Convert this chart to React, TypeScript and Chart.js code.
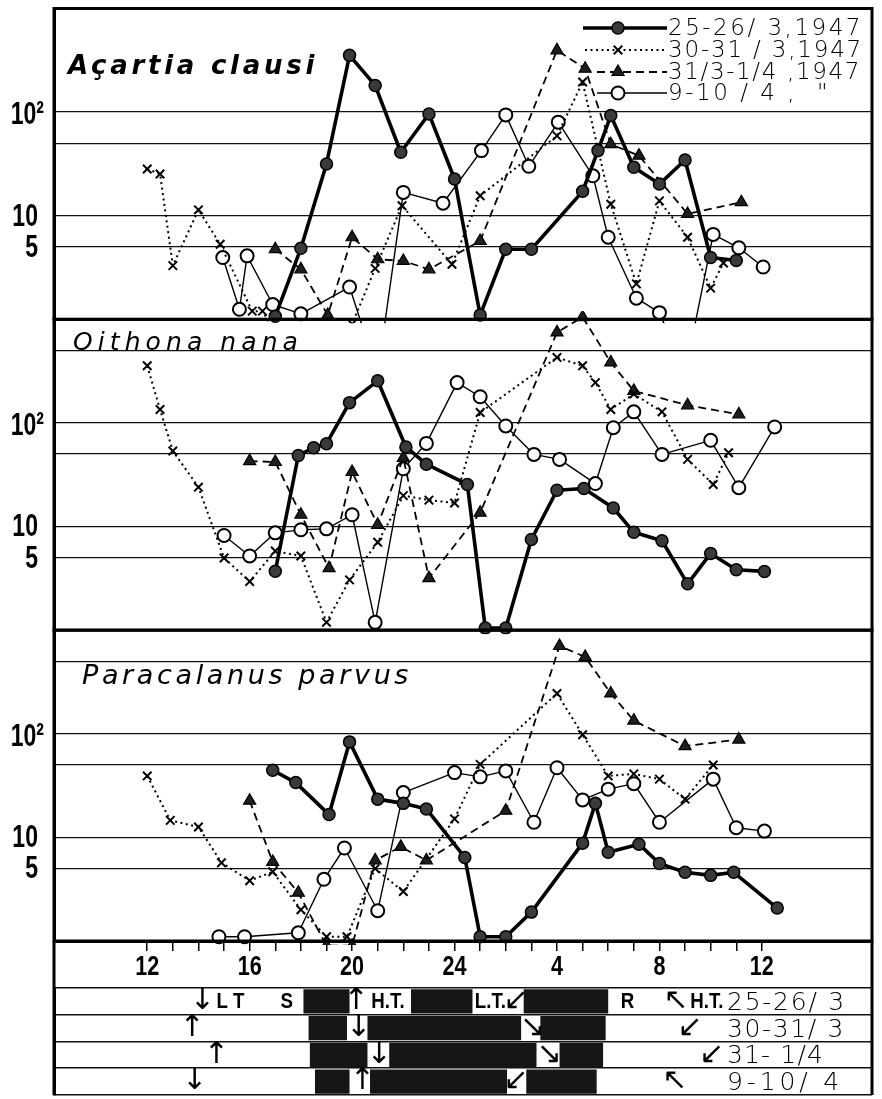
import React, { useEffect, useRef } from 'react';
import { Chart, registerables } from 'chart.js';
import { drawPoint } from 'chart.js/helpers';

Chart.register(...registerables);

// ---------- axis ----------
const X_MIN = 8.36;
const X_MAX = 40.3;
const hourTicks = [12, 13, 14, 15, 16, 17, 18, 19, 20, 21, 22, 23, 24, 25, 26, 27, 28, 29, 30, 31, 32, 33, 34, 35, 36];
const hourTickText: Record<number, string> = { 12: '12', 16: '16', 20: '20', 24: '24', 28: '4', 32: '8', 36: '12' };
const yLabelValues = [5, 10, 100];
const yTickText: Record<number, string> = { 5: '5', 10: '10', 100: '10²' };
const panelGridTop = [5, 10, 50, 100];
const panelGrid = [5, 10, 50, 100, 500];

const seriesNames = ['25-26/ 3,1947', '30-31 / 3,1947', '31/3-1/4 ,1947', '9-10 / 4 ,  "'];
const panelTitles = ['Açartia clausi', 'Oithona nana', 'Paracalanus parvus'];

// ---------- Açartia clausi ----------
const acHours25 = [17, 18, 19, 19.9, 20.9, 21.9, 23, 24, 25, 26, 27, 29, 29.6, 30.1, 31, 32, 33, 34, 35];
const acCount25 = [1.07, 4.85, 31.6, 353, 181, 41, 96, 22.6, 1.1, 4.75, 4.75, 17.2, 42.5, 92.6, 29.4, 20.2, 34.5, 3.95, 3.7];
const acHours30 = [12, 12.5, 13, 14, 14.85, 16.1, 16.5, 18, 19, 20, 20.9, 21.95, 23.9, 25, 28, 29, 30.1, 31.1, 32, 33.1, 34, 34.5];
const acCount30 = [28.2, 25.3, 3.3, 11.4, 5.3, 1.2, 1.2, 0.3, 0.3, 0.9, 3.1, 12.5, 3.4, 15.6, 59, 195, 12.9, 2.2, 13.9, 6.2, 2.0, 3.5];
const acHours31 = [17, 18, 19.05, 20, 21, 22, 23, 25, 28, 29.1, 30.1, 31.2, 33.1, 35.2];
const acCount31 = [4.75, 3.04, 1.1, 6.2, 3.8, 3.66, 3.04, 5.7, 395, 262, 49, 38, 10.4, 13.5];
const acHours9 = [14.95, 15.6, 15.9, 16.9, 18, 19.9, 21, 22, 23.55, 25.05, 26, 26.9, 28.05, 29.4, 30, 31.1, 32, 33, 34.1, 35.1, 36.05];
const acCount9 = [3.95, 1.25, 4.1, 1.39, 1.13, 2.05, 0.3, 16.8, 13.2, 42.5, 94, 30, 80, 24.3, 6.2, 1.6, 1.16, 0.3, 6.6, 4.9, 3.2];

// ---------- Oithona nana ----------
const onHours25 = [17, 17.9, 18.5, 19, 19.9, 21, 22.1, 22.9, 24.5, 25.2, 26, 27, 28, 29.05, 30.2, 31, 32.1, 33.1, 34, 35, 36.1];
const onCount25 = [3.7, 48.5, 57.7, 63, 157, 255, 58.6, 40, 25.5, 1.05, 1.05, 7.5, 22.4, 23.3, 15.1, 8.8, 7.3, 2.8, 5.5, 3.83, 3.69];
const onHours30 = [12, 12.5, 13, 14, 15, 16, 17, 18, 19, 19.9, 21, 22, 23, 24, 25, 28, 29, 29.5, 30.1, 31, 32.1, 33.1, 34.1, 34.7];
const onCount30 = [356, 135, 53.6, 24, 4.97, 2.95, 5.8, 5.2, 1.19, 3.06, 7.05, 19.9, 18, 16.9, 126, 429, 356, 245, 135, 190, 128, 44.5, 25.5, 51.5];
const onHours31 = [16, 17, 18, 19.1, 20, 21, 22, 23, 25, 28, 29, 30.1, 31, 33.1, 35.1];
const onCount31 = [42.9, 42, 13, 3.97, 33.6, 10.4, 46, 3.18, 13.6, 748, 1050, 384, 204, 148, 121];
const onHours9 = [15, 16, 17, 18, 19, 20, 20.9, 22, 22.9, 24.1, 25, 26, 27.1, 28.1, 29.5, 30.2, 31, 32.1, 34, 35.1, 36.5];
const onCount9 = [8.2, 5.2, 8.7, 9.3, 9.5, 13, 1.19, 36.1, 63.5, 245, 179, 93.5, 49.7, 44.5, 26, 90, 128, 49.7, 68, 23.7, 91.5];

// ---------- Paracalanus parvus ----------
const ppHours25 = [16.9, 17.8, 19.1, 19.9, 21, 22, 22.9, 24.4, 25, 26, 27, 29, 29.5, 30, 31.2, 32, 33, 34, 34.9, 36.6];
const ppCount25 = [44.5, 33.8, 16.6, 83.5, 23.4, 21.3, 18.8, 6.4, 1.1, 1.1, 1.9, 8.8, 21.3, 7.2, 8.6, 5.6, 4.6, 4.3, 4.6, 2.08];
const ppHours30 = [12, 12.9, 14, 14.9, 16, 16.9, 18, 19, 19.8, 20.9, 22, 24, 25, 28, 29, 30, 31, 32, 33, 34.1];
const ppCount30 = [39.2, 14.6, 12.6, 5.7, 3.82, 4.66, 2.0, 1.1, 1.1, 5.0, 3.0, 15.1, 50.7, 245, 98, 39.2, 41, 36.5, 23.4, 50];
const ppHours31 = [16, 16.9, 17.9, 19, 20, 20.9, 21.9, 22.9, 26, 28.1, 29.1, 30.1, 31, 33, 35.1];
const ppCount31 = [22.6, 5.8, 2.93, 0.9, 0.9, 6.0, 8.1, 6.0, 18.1, 703, 552, 245, 134, 76, 88];
const ppHours9 = [14.8, 15.8, 17.9, 18.9, 19.7, 21, 22, 24, 25, 26, 27.1, 28, 29, 30, 31, 32, 34.1, 35, 36.1];
const ppCount9 = [1.1, 1.1, 1.2, 3.94, 7.9, 1.96, 27.1, 42.2, 38.4, 43.8, 14, 47, 23, 29.2, 33, 14, 36.5, 12.4, 11.5];

// ---------- tide / light rows ----------
const tideRows = ['25-26/ 3', '30-31/ 3', '31- 1/4', '9-10/ 4'];
const darkSegA = [[18.1, 19.9], [18.3, 19.8], [18.35, 20.6], [18.55, 19.9]];
const darkSegB = [[22.3, 24.7], [20.6, 26.6], [21.45, 27.2], [20.7, 26.05]];
const darkSegC = [[26.7, 30.0], [27.35, 29.9], [28.1, 29.8], [26.8, 29.55]];
const markRow = [0, 0, 0, 0, 0, 0, 0, 0, 0, 0, 1, 1, 1, 1, 2, 2, 2, 2, 3, 3, 3, 3];
const markHour = [14.15, 15.25, 17.45, 20.15, 21.4, 25.4, 26.4, 30.75, 32.65, 33.85, 13.75, 20.25, 27.05, 33.2, 14.7, 21.05, 27.7, 34.05, 13.85, 20.4, 26.4, 32.6];
const markText = ['↓', 'L T', 'S', '↑', 'H.T.', 'L.T.', '↙', 'R', '↖', 'H.T.', '↑', '↓', '↘', '↙', '↑', '↓', '↘', '↙', '↓', '↑', '↙', '↖'];

// ---------- styles ----------
const W = 882;
const H = 1099;
const TOP_H = 985;
const SANS = '"Liberation Sans", Arimo, sans-serif';

const seriesStyles: any[] = [
  { borderWidth: 3.6, borderDash: [], pointStyle: 'circle', pointRadius: 6, pointBackgroundColor: '#3a3a3a', pointBorderWidth: 1.5 },
  { borderWidth: 2, borderDash: [2, 3.5], pointStyle: 'crossRot', pointRadius: 6, pointBackgroundColor: '#000', pointBorderWidth: 2 },
  { borderWidth: 1.8, borderDash: [8, 5], pointStyle: 'triangle', pointRadius: 7, pointBackgroundColor: '#1e1e1e', pointBorderWidth: 1.2 },
  { borderWidth: 1.4, borderDash: [], pointStyle: 'circle', pointRadius: 6.5, pointBackgroundColor: '#fff', pointBorderWidth: 2 },
];

const zip = (h: number[], v: number[]) => h.map((x, i) => ({ x, y: v[i] }));

const panelSeries = [
  [zip(acHours25, acCount25), zip(acHours30, acCount30), zip(acHours31, acCount31), zip(acHours9, acCount9)],
  [zip(onHours25, onCount25), zip(onHours30, onCount30), zip(onHours31, onCount31), zip(onHours9, onCount9)],
  [zip(ppHours25, ppCount25), zip(ppHours30, ppCount30), zip(ppHours31, ppCount31), zip(ppHours9, ppCount9)],
];

function fitText(ctx: CanvasRenderingContext2D, text: string, x: number, y: number, width: number) {
  (ctx as any).letterSpacing = '0px';
  const w = ctx.measureText(text).width;
  const n = Array.from(text).length;
  const ls = Math.max(-2, (width - w) / n);
  (ctx as any).letterSpacing = ls.toFixed(2) + 'px';
  ctx.fillText(text, x, y);
  (ctx as any).letterSpacing = '0px';
}

function narrowText(ctx: CanvasRenderingContext2D, text: string, x: number, y: number, sx: number) {
  ctx.save();
  ctx.translate(x, y);
  ctx.scale(sx, 1);
  ctx.fillText(text, 0, 0);
  ctx.restore();
}

const panelClip = {
  id: 'panelClip',
  beforeDatasetDraw(chart: any, args: any) {
    const ys = args.meta.yScale;
    const a = chart.chartArea;
    const ctx = chart.ctx;
    ctx.save();
    ctx.beginPath();
    ctx.rect(a.left - 10, ys.top - 8, a.right - a.left + 20, ys.bottom - ys.top + 12);
    ctx.clip();
  },
  afterDatasetDraw(chart: any) {
    chart.ctx.restore();
  },
};

const titleFonts = ['italic bold 26px "DejaVu Sans"', 'italic 25px "DejaVu Sans"', 'italic 27px "DejaVu Sans"'];
const titleX = [68, 73, 82];
const titleOffset = [65, 31, 54];
const titleW = [250, 230, 330];
const legendY = [28, 50, 72, 93];
const legendLineStart = [583, 585, 597, 597];
const legendW = [195, 195, 193, 162];

const topDecor = {
  id: 'topDecor',
  afterDraw(chart: any) {
    const ctx: CanvasRenderingContext2D = chart.ctx;
    const a = chart.chartArea;
    ctx.save();
    ctx.strokeStyle = '#000';
    ctx.lineWidth = 3;
    ['y1', 'y2', 'y3'].forEach((id) => {
      const s = chart.scales[id];
      ctx.strokeRect(a.left, s.top, a.right - a.left, s.bottom - s.top);
    });
    ctx.beginPath();
    ctx.moveTo(a.left, a.bottom);
    ctx.lineTo(a.left, chart.height);
    ctx.moveTo(a.right, a.bottom);
    ctx.lineTo(a.right, chart.height);
    ctx.stroke();

    // axis labels (condensed)
    ctx.fillStyle = '#000';
    ctx.font = 'bold 32px ' + SANS;
    ctx.textBaseline = 'middle';
    ctx.textAlign = 'right';
    ['y1', 'y2', 'y3'].forEach((id) => {
      const s = chart.scales[id];
      yLabelValues.forEach((v) => {
        const y = s.getPixelForValue(v);
        const t = yTickText[v];
        narrowText(ctx, t, v === 100 ? 44 : 38, y + (v === 100 ? 3 : 1), 0.72);
      });
    });
    const xs = chart.scales.x;
    ctx.textAlign = 'center';
    ctx.font = 'bold 27px ' + SANS;
    hourTicks.forEach((h) => {
      const t = hourTickText[h];
      if (t) narrowText(ctx, t, xs.getPixelForValue(h), a.bottom + 27, 0.8);
    });

    // titles
    ctx.textAlign = 'left';
    ctx.textBaseline = 'alphabetic';
    ['y1', 'y2', 'y3'].forEach((id, i) => {
      const s = chart.scales[id];
      ctx.font = titleFonts[i];
      fitText(ctx, panelTitles[i], titleX[i], s.top + titleOffset[i], titleW[i]);
    });

    // legend
    for (let i = 0; i < 4; i++) {
      const st = seriesStyles[i];
      const y = legendY[i];
      ctx.strokeStyle = '#000';
      ctx.lineWidth = st.borderWidth;
      ctx.setLineDash(st.borderDash);
      ctx.beginPath();
      ctx.moveTo(legendLineStart[i], y);
      ctx.lineTo(667, y);
      ctx.stroke();
      ctx.setLineDash([]);
      ctx.fillStyle = st.pointBackgroundColor;
      ctx.lineWidth = st.pointBorderWidth;
      drawPoint(ctx, { pointStyle: st.pointStyle, radius: st.pointRadius, rotation: 0, borderWidth: st.pointBorderWidth } as any, 618, y);
      ctx.fillStyle = '#000';
      ctx.font = '200 23px "DejaVu Sans", sans-serif';
      ctx.textBaseline = 'middle';
      fitText(ctx, seriesNames[i], 668, y + 1, legendW[i]);
    }
    ctx.restore();
  },
};

function yAxis(weight: number, grid: number[]) {
  return {
    type: 'logarithmic',
    position: 'left',
    stack: 'panels',
    stackWeight: 1,
    weight,
    min: 1,
    max: 1000,
    border: { display: true, color: '#000', width: 3 },
    grid: { color: '#111', lineWidth: 1.3, drawTicks: false },
    ticks: { display: false, autoSkip: false },
    afterBuildTicks: (s: any) => {
      s.ticks = grid.map((v) => ({ value: v }));
    },
    afterFit: (s: any) => {
      s.width = 54;
      s.paddingTop = 0;
      s.paddingBottom = 0;
    },
  };
}

function topConfig(): any {
  const datasets: any[] = [];
  panelSeries.forEach((series, p) =>
    series.forEach((data, s) => {
      datasets.push({
        label: seriesNames[s],
        data,
        xAxisID: 'x',
        yAxisID: 'y' + (p + 1),
        borderColor: '#000',
        pointBorderColor: '#000',
        tension: 0,
        clip: false,
        borderCapStyle: 'butt',
        borderJoinStyle: 'round',
        order: s,
        ...seriesStyles[s],
      });
    })
  );
  return {
    type: 'line',
    data: { datasets },
    options: {
      responsive: false,
      animation: false,
      devicePixelRatio: 1,
      layout: { padding: { top: 5, right: 10, left: 0, bottom: 0 } },
      plugins: { legend: { display: false }, tooltip: { enabled: false } },
      scales: {
        x: {
          type: 'linear',
          position: 'bottom',
          min: X_MIN,
          max: X_MAX,
          border: { display: true, color: '#000', width: 3 },
          grid: { drawOnChartArea: false, drawTicks: true, tickLength: 10, color: '#000', lineWidth: 1.5 },
          ticks: { display: false, autoSkip: false, maxRotation: 0 },
          afterBuildTicks: (s: any) => {
            s.ticks = hourTicks.map((v) => ({ value: v }));
          },
          afterFit: (s: any) => {
            s.height = 44;
            s.paddingLeft = 0;
            s.paddingRight = 0;
          },
        },
        y1: yAxis(3, panelGridTop),
        y2: yAxis(2, panelGrid),
        y3: yAxis(1, panelGrid),
      },
    },
    plugins: [panelClip, topDecor],
  };
}

const tideDecor = {
  id: 'tideDecor',
  afterDatasetsDraw(chart: any) {
    const ctx: CanvasRenderingContext2D = chart.ctx;
    const a = chart.chartArea;
    const xs = chart.scales.x;
    const ys = chart.scales.y;
    ctx.save();
    ctx.fillStyle = '#000';
    ctx.textAlign = 'center';
    ctx.textBaseline = 'middle';
    markHour.forEach((h, i) => {
      const t = markText[i];
      const arrow = '↓↑↙↘↖'.includes(t);
      ctx.font = arrow ? '30px "DejaVu Sans", sans-serif' : 'bold 22px ' + SANS;
      if (arrow) ctx.fillText(t, xs.getPixelForValue(h), ys.getPixelForValue(markRow[i]));
      else narrowText(ctx, t, xs.getPixelForValue(h), ys.getPixelForValue(markRow[i]) + 1, 0.85);
    });
    ctx.textAlign = 'left';
    ctx.font = '200 25px "DejaVu Sans", sans-serif';
    const rowW = [119, 118, 97, 116];
    tideRows.forEach((r, i) => {
      fitText(ctx, r, a.right - 145, ys.getPixelForValue(i) + 2, rowW[i]);
    });
    ctx.strokeStyle = '#000';
    ctx.lineWidth = 3;
    ctx.beginPath();
    ctx.moveTo(a.left, 0);
    ctx.lineTo(a.left, a.bottom);
    ctx.moveTo(a.right, 0);
    ctx.lineTo(a.right, a.bottom);
    ctx.stroke();
    ctx.restore();
  },
};

function tideConfig(): any {
  return {
    type: 'bar',
    data: {
      labels: tideRows,
      datasets: [darkSegA, darkSegB, darkSegC].map((d) => ({
        data: d,
        backgroundColor: '#161616',
        borderWidth: 0,
        barPercentage: 0.9,
        categoryPercentage: 1,
        grouped: false,
      })),
    },
    options: {
      indexAxis: 'y',
      responsive: false,
      animation: false,
      devicePixelRatio: 1,
      layout: { padding: { top: 3, right: 10, bottom: 4, left: 0 } },
      plugins: { legend: { display: false }, tooltip: { enabled: false } },
      scales: {
        x: { type: 'linear', min: X_MIN, max: X_MAX, display: false },
        y: {
          type: 'category',
          offset: true,
          grid: { offset: true, color: '#111', lineWidth: 1.6, drawTicks: false },
          ticks: { display: false },
          border: { display: true, width: 3, color: '#000' },
          afterFit: (s: any) => {
            s.width = 54;
            s.paddingTop = 0;
            s.paddingBottom = 0;
          },
        },
      },
    },
    plugins: [tideDecor],
  };
}

export default function App() {
  const topRef = useRef<HTMLCanvasElement>(null);
  const tideRef = useRef<HTMLCanvasElement>(null);
  useEffect(() => {
    const c1 = new Chart(topRef.current as HTMLCanvasElement, topConfig());
    const c2 = new Chart(tideRef.current as HTMLCanvasElement, tideConfig());
    return () => {
      c1.destroy();
      c2.destroy();
    };
  }, []);
  return (
    <div style={{ position: 'absolute', left: 0, top: 0, width: W, height: H, background: '#fff' }}>
      <canvas ref={topRef} width={W} height={TOP_H} style={{ position: 'absolute', left: 0, top: 0, width: W, height: TOP_H }} />
      <canvas ref={tideRef} width={W} height={H - TOP_H} style={{ position: 'absolute', left: 0, top: TOP_H, width: W, height: H - TOP_H }} />
    </div>
  );
}
